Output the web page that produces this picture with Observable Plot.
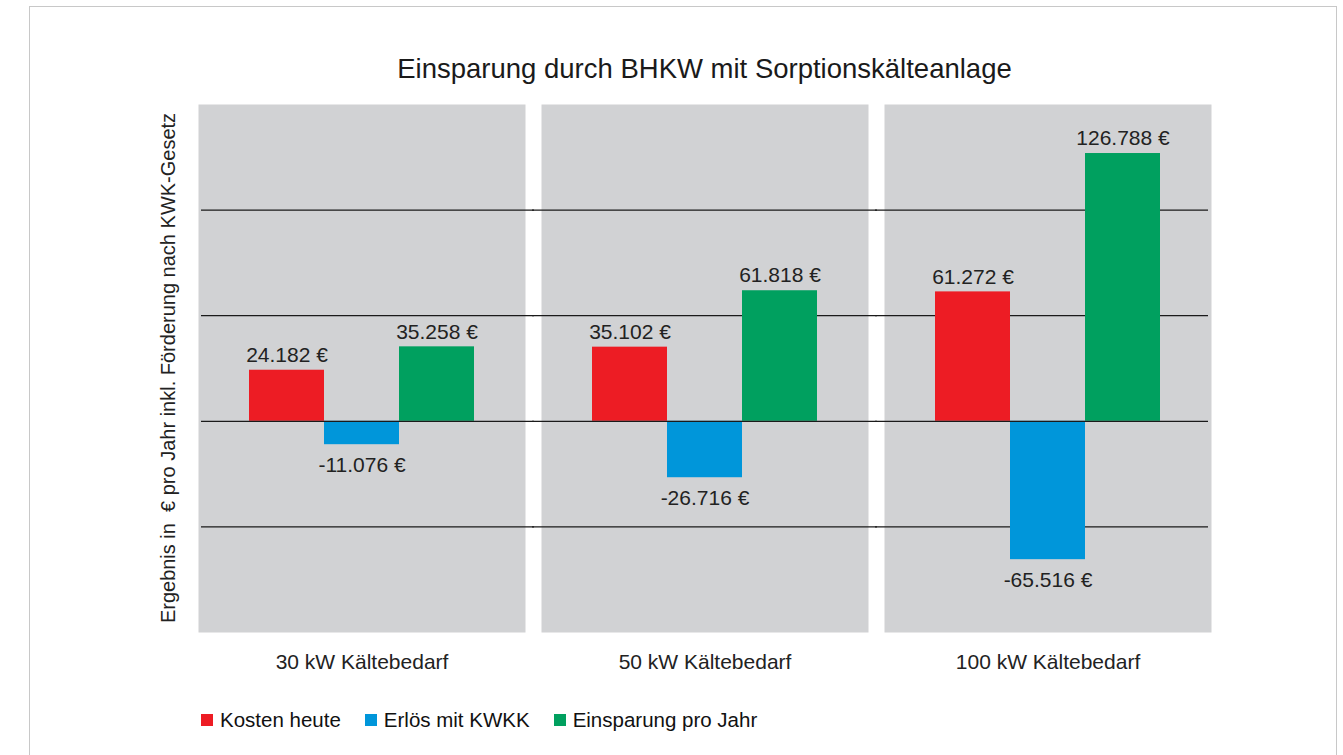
<!DOCTYPE html>
<html><head><meta charset="utf-8">
<script src="https://cdn.jsdelivr.net/npm/d3@7"></script>
<script src="https://cdn.jsdelivr.net/npm/@observablehq/plot@0.6"></script>
<style>
body{margin:0;background:#fff;font-family:"Liberation Sans",Arial,sans-serif;}
#wrap{position:relative;width:1343px;height:755px;overflow:hidden;}
#border{position:absolute;left:29px;top:6px;width:1308px;height:820px;border:1.5px solid #c8c8c8;box-sizing:border-box;}
#title{position:absolute;top:53px;left:198px;width:1013px;text-align:center;font-size:27.5px;color:#1a1a1a;white-space:nowrap;}
#ylabel{position:absolute;left:168px;top:368px;transform:translate(-50%,-50%) rotate(-90deg);white-space:pre;font-size:20px;color:#222;}
#chart{position:absolute;left:0;top:0;}
#legend{position:absolute;left:201px;top:708px;display:flex;align-items:center;font-size:20.5px;color:#111;}
#legend .item{display:flex;align-items:center;margin-right:24px;}
#legend .sw{width:12px;height:12px;margin-right:7px;}
</style>
</head><body>
<div id="wrap">
  <div id="border"></div>
  <div id="title"></div>
  <div id="chart"></div>
  <div id="ylabel"></div>
  <div id="legend"></div>
</div>
<script>
const titleText = "Einsparung durch BHKW mit Sorptionskälteanlage";
const yLabelText = "Ergebnis in  € pro Jahr inkl. Förderung nach KWK-Gesetz";
const categories = ["30 kW Kältebedarf", "50 kW Kältebedarf", "100 kW Kältebedarf"];
const series = ["Kosten heute", "Erlös mit KWKK", "Einsparung pro Jahr"];
const kostenHeute = [24182, 35102, 61272];
const erloesKWKK = [-11076, -26716, -65516];
const einsparungJahr = [35258, 61818, 126788];
const seriesColors = ["#ed1c24", "#0096da", "#00a05f"];
const gridValues = [-50000, 50000, 100000];
const yDomain = [-100000, 150000];

const seriesValues = [kostenHeute, erloesKWKK, einsparungJahr];
const rows = [];
categories.forEach((c, i) => {
  series.forEach((s, j) => rows.push({category: c, series: s, value: seriesValues[j][i]}));
});

const locale = d3.formatLocale({decimal: ",", thousands: ".", grouping: [3], currency: ["", " €"], minus: "-"});
const fmtNum = locale.format(",");
const fmt = v => fmtNum(v) + " €";

document.getElementById("title").textContent = titleText;
document.getElementById("ylabel").textContent = yLabelText;
const legend = document.getElementById("legend");
series.forEach((s, j) => {
  const it = document.createElement("div"); it.className = "item";
  const sw = document.createElement("div"); sw.className = "sw"; sw.style.background = seriesColors[j];
  const tx = document.createElement("span"); tx.textContent = s;
  it.appendChild(sw); it.appendChild(tx); legend.appendChild(it);
});

// grid rules per facet; inner edges extend into the white gaps so lines run continuously
function ruleMarks(values) {
  return categories.map((c, i) => {
    const data = values.map(v => ({category: c, value: v}));
    const last = categories.length - 1;
    return Plot.ruleY(data, {
      fx: "category", y: "value", stroke: "#1a1a1a", strokeWidth: 1.2,
      insetLeft: i === 0 ? 3 : -9, insetRight: i === last ? 3 : -9
    });
  });
}

const chart = Plot.plot({
  width: 1343, height: 700,
  marginLeft: 198, marginRight: 132, marginTop: 104, marginBottom: 68,
  style: {fontFamily: "'Liberation Sans', Arial, sans-serif", fontSize: "21px", color: "#222", background: "transparent", overflow: "visible"},
  fx: {domain: categories, paddingInner: 16 / 343, paddingOuter: 0, axis: "bottom", label: null, tickSize: 0, tickPadding: 22},
  x: {domain: series, axis: null, paddingInner: 0, paddingOuter: 0.66},
  y: {domain: yDomain, axis: null},
  color: {domain: series, range: seriesColors},
  marks: [
    Plot.frame({fill: "#d1d2d4", stroke: null}),
    ...ruleMarks(gridValues),
    Plot.barY(rows, {fx: "category", x: "series", y: "value", fill: "series"}),
    ...ruleMarks([0]),
    Plot.text(rows.filter(d => d.value >= 0), {fx: "category", x: "series", y: "value", text: d => fmt(d.value), dy: -15, fill: "#222"}),
    Plot.text(rows.filter(d => d.value < 0), {fx: "category", x: "series", y: "value", text: d => fmt(d.value), dy: 21, fill: "#222"})
  ]
});
document.getElementById("chart").appendChild(chart);
</script>
</body></html>
